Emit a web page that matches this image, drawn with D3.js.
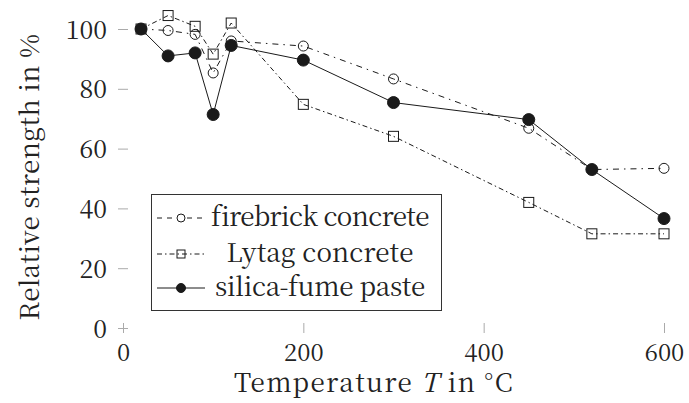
<!DOCTYPE html>
<html>
<head>
<meta charset="utf-8">
<script src="https://cdn.jsdelivr.net/npm/d3@7/dist/d3.min.js"></script>
<style>
  html, body { margin: 0; padding: 0; background: #fff; }
  svg { display: block; }
</style>
</head>
<body>
<svg id="chart" width="689" height="403"></svg>
<script>
// ---- data ----
const temperatures = [20, 50, 80, 100, 120, 200, 300, 450, 520, 600];
const firebrick = [100, 99.5, 98.2, 85.3, 96.0, 94.3, 83.3, 66.8, 53.0, 53.4];
const lytag = [100, 104.5, 100.9, 91.6, 102.0, 74.8, 64.1, 42.0, 31.5, 31.5];
const silica = [100, 91.0, 92.0, 71.4, 94.5, 89.6, 75.4, 69.7, 53.0, 36.6];
const seriesNames = ["firebrick concrete", "Lytag concrete", "silica-fume paste"];
const xTicks = [0, 200, 400, 600];
const yTicks = [0, 20, 40, 60, 80, 100];

const FONT = '"Noto Serif CJK SC", "Liberation Serif", serif';
const TXT = "#222";
const svg = d3.select("#chart");
const x = d3.scaleLinear().domain([0, 600]).range([123, 664]);
const y = d3.scaleLinear().domain([0, 100]).range([328, 29]);

// stretch/shrink a text to a measured width with letter-spacing
function fitWidth(sel, target) {
  sel.each(function () {
    const w = this.getComputedTextLength();
    const n = this.textContent.length;
    if (w > 0 && n > 1) d3.select(this).style("letter-spacing", ((target - w) / n).toFixed(3) + "px");
  });
}

// ---- axes (ticks only) ----
const tickColor = "#aaa";
const yAxis = svg.append("g").attr("transform", `translate(${x(0)},0)`)
  .call(d3.axisLeft(y).tickValues(yTicks).tickSize(5).tickFormat(d3.format("d")));
yAxis.select(".domain").remove();
yAxis.selectAll(".tick line").attr("x1", -5).attr("x2", 5).attr("stroke", tickColor).attr("stroke-width", 1);
yAxis.selectAll(".tick text").attr("x", -16).attr("dy", "0.36em")
  .style("font-family", FONT).style("font-size", "25px").style("fill", TXT);

const xAxis = svg.append("g").attr("transform", `translate(0,${y(0)})`)
  .call(d3.axisBottom(x).tickValues(xTicks).tickSize(5).tickFormat(d3.format("d")));
xAxis.select(".domain").remove();
xAxis.selectAll(".tick line").attr("y1", -5).attr("y2", 5).attr("stroke", tickColor).attr("stroke-width", 1);
xAxis.selectAll(".tick text").attr("y", 33).attr("dy", 0)
  .style("font-family", FONT).style("font-size", "24px").style("fill", TXT);

// ---- axis titles ----
const xt = svg.append("text").attr("x", 234).attr("y", 392).attr("text-anchor", "start")
  .style("font-family", FONT).style("font-size", "26px").style("fill", TXT);
xt.append("tspan").text("Temperature ");
xt.append("tspan").style("font-style", "italic").text("T");
xt.append("tspan").text(" in °C");
fitWidth(xt, 280);

const yt = svg.append("text").attr("transform", "translate(39,177) rotate(-90)")
  .attr("text-anchor", "middle")
  .style("font-family", FONT).style("font-size", "26px").style("fill", TXT)
  .text("Relative strength in %");
fitWidth(yt, 287);

// ---- series ----
const ink = "#1a1a1a";
const styles = [
  { data: firebrick, dash: "6,5,1.5,5", marker: "circle", fill: "none", r: 5 },
  { data: lytag, dash: "5,3,1.5,3", marker: "square", fill: "none", r: 5 },
  { data: silica, dash: null, marker: "circle", fill: ink, r: 6 }
];
const line = d3.line().x(d => x(d[0])).y(d => y(d[1]));

function drawMarker(g, type, cx, cy, r, fill) {
  if (type === "circle") {
    g.append("circle").attr("cx", cx).attr("cy", cy).attr("r", r)
      .attr("fill", fill).attr("stroke", ink).attr("stroke-width", 1);
  } else {
    g.append("rect").attr("x", cx - r).attr("y", cy - r).attr("width", 2 * r).attr("height", 2 * r)
      .attr("fill", fill).attr("stroke", ink).attr("stroke-width", 1);
  }
}

styles.forEach(s => {
  const pts = temperatures.map((t, i) => [t, s.data[i]]);
  const g = svg.append("g");
  g.append("path").attr("d", line(pts)).attr("fill", "none").attr("stroke", ink)
    .attr("stroke-width", 1).attr("stroke-dasharray", s.dash);
  pts.forEach(p => drawMarker(g, s.marker, x(p[0]), y(p[1]), s.r, s.fill));
});

// ---- legend ----
const lg = svg.append("g");
lg.append("rect").attr("x", 151.5).attr("y", 194.5).attr("width", 290).attr("height", 116)
  .attr("fill", "#fff").attr("stroke", "#333").attr("stroke-width", 1);
const rowY = [218, 254, 288];
const baseY = [226, 262, 296];
const targetW = [216, 187, 210];
const legDash = ["5,5", "5,3,1.5,3", null];
styles.forEach((s, i) => {
  lg.append("line").attr("x1", 157).attr("x2", 205).attr("y1", rowY[i]).attr("y2", rowY[i])
    .attr("stroke", ink).attr("stroke-width", 1).attr("stroke-dasharray", legDash[i]);
  if (s.fill === "none" && s.marker === "circle") {
    lg.append("circle").attr("cx", 181).attr("cy", rowY[i]).attr("r", 4.5).attr("fill", "#fff");
  }
  drawMarker(lg, s.marker, 181, rowY[i], s.fill === "none" ? 4 : 4.5, s.fill);
  const t = lg.append("text").attr("x", 320).attr("y", baseY[i]).attr("text-anchor", "middle")
    .style("font-family", FONT).style("font-size", "26px").style("fill", TXT)
    .text(seriesNames[i]);
  fitWidth(t, targetW[i]);
});
</script>
</body>
</html>
